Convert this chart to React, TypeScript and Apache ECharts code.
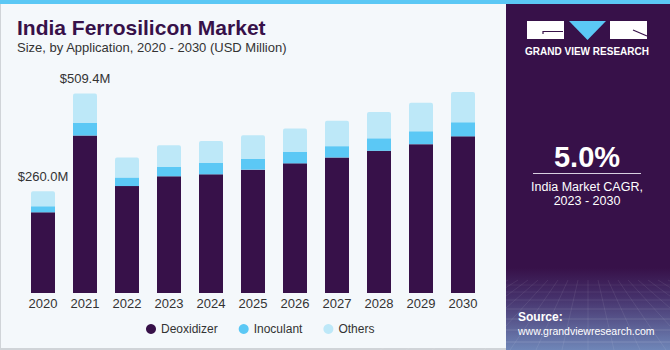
import React, { useEffect, useRef } from "react";
import * as echarts from "echarts";

const years = ["2020", "2021", "2022", "2023", "2024", "2025", "2026", "2027", "2028", "2029", "2030"];
const deoxidizer = [206, 402, 273, 298, 303, 315, 331, 346, 363, 380, 400];
const inoculant = [15.5, 32, 22, 24, 29, 28, 29, 29, 32, 33, 36];
const others = [38.5, 75.4, 51, 55, 56, 60, 60, 65, 67, 73, 77];
const labeledIndices = [0, 1];

const FONT = "Liberation Sans, Arial, sans-serif";
const PURPLE = "#371149";
const BLUE = "#5bc8f5";
const LIGHT = "#bde8f8";

export default function App() {
  const ref = useRef<HTMLDivElement>(null);
  useEffect(() => {
    if (!ref.current) return;
    const chart = echarts.init(ref.current, null, { renderer: "svg" });
    const totals = years.map((_, i) => deoxidizer[i] + inoculant[i] + others[i]);

    const mesh: any[] = [];
    const hy = [285, 292, 300, 309, 319, 330, 342];
    hy.forEach((y, k) => {
      mesh.push({
        type: "line",
        shape: { x1: 506, y1: y, x2: 670, y2: y },
        style: { stroke: "#ffffff", opacity: 0.06 + k * 0.015, lineWidth: 1 },
        silent: true,
      });
    });
    for (let i = -8; i <= 8; i++) {
      mesh.push({
        type: "line",
        shape: { x1: 588 + i * 10, y1: 280, x2: 588 + i * 26, y2: 350 },
        style: { stroke: "#ffffff", opacity: 0.08, lineWidth: 1 },
        silent: true,
      });
    }

    chart.setOption({
      animation: false,
      backgroundColor: "#f4f8fb",
      textStyle: { fontFamily: FONT },
      grid: { left: 22, right: 186, top: 58, bottom: 57 },
      legend: {
        left: 141,
        top: 318,
        icon: "circle",
        itemWidth: 10,
        itemHeight: 10,
        itemGap: 21,
        textStyle: { fontSize: 12, color: "#333", fontFamily: FONT },
        data: ["Deoxidizer", "Inoculant", "Others"],
      },
      xAxis: {
        type: "category",
        data: years,
        axisLine: { show: false },
        axisTick: { show: false },
        axisLabel: { margin: 4, fontSize: 13, color: "#333", fontFamily: FONT },
      },
      yAxis: {
        type: "value",
        min: 0,
        max: 600,
        show: false,
        splitLine: { show: false },
      },
      series: [
        {
          name: "Deoxidizer",
          type: "bar",
          stack: "t",
          barWidth: 24,
          data: deoxidizer,
          itemStyle: { color: PURPLE },
        },
        {
          name: "Inoculant",
          type: "bar",
          stack: "t",
          barWidth: 24,
          data: inoculant,
          itemStyle: { color: BLUE },
        },
        {
          name: "Others",
          type: "bar",
          stack: "t",
          barWidth: 24,
          data: others,
          itemStyle: { color: LIGHT, borderRadius: [2, 2, 0, 0] },
          label: {
            show: true,
            position: "top",
            distance: 8,
            fontSize: 13,
            color: "#333",
            fontFamily: FONT,
            formatter: (p: any) =>
              labeledIndices.includes(p.dataIndex) ? "$" + totals[p.dataIndex].toFixed(1) + "M" : "",
          },
        },
      ],
      graphic: [
        { type: "rect", shape: { x: 0, y: 0, width: 670, height: 4 }, style: { fill: BLUE }, silent: true },
        { type: "rect", shape: { x: 0, y: 4, width: 1, height: 346 }, style: { fill: "#d0d4d8" }, silent: true },
        { type: "rect", shape: { x: 0, y: 348, width: 506, height: 2 }, style: { fill: "#d0d4d8" }, silent: true },
        {
          type: "text",
          left: 17,
          top: 17,
          style: { text: "India Ferrosilicon Market", font: `bold 21px ${FONT}`, fill: PURPLE },
        },
        {
          type: "text",
          left: 17,
          top: 41,
          style: { text: "Size, by Application, 2020 - 2030 (USD Million)", font: `13px ${FONT}`, fill: "#333" },
        },
        { type: "rect", shape: { x: 506, y: 4, width: 164, height: 346 }, style: { fill: PURPLE }, silent: true },
        {
          type: "rect",
          shape: { x: 506, y: 268, width: 164, height: 82 },
          style: {
            fill: new echarts.graphic.LinearGradient(0, 0, 0, 1, [
              { offset: 0, color: PURPLE },
              { offset: 0.35, color: "#45306a" },
              { offset: 1, color: "#6f86b8" },
            ]),
          },
          silent: true,
        },
        ...mesh,
        { type: "rect", shape: { x: 527, y: 21, width: 37, height: 18 }, style: { fill: "#ffffff" }, silent: true },
        {
          type: "polyline",
          shape: { points: [[563, 31.5], [543, 31.5], [543, 34]] },
          style: { stroke: PURPLE, lineWidth: 1.2, fill: "none" },
          silent: true,
        },
        {
          type: "polygon",
          shape: { points: [[569, 21], [606, 21], [587.5, 40]] },
          style: { fill: BLUE },
          silent: true,
        },
        { type: "rect", shape: { x: 610, y: 21, width: 37, height: 18 }, style: { fill: "#ffffff" }, silent: true },
        {
          type: "line",
          shape: { x1: 633, y1: 30, x2: 647, y2: 36 },
          style: { stroke: PURPLE, lineWidth: 1.2 },
          silent: true,
        },
        {
          type: "text",
          x: 587,
          y: 51,
          style: {
            text: "GRAND VIEW RESEARCH",
            font: `bold 10px ${FONT}`,
            fill: "#ffffff",
            align: "center",
            verticalAlign: "middle",
          },
        },
        {
          type: "text",
          x: 587,
          y: 157,
          style: {
            text: "5.0%",
            font: `bold 29px ${FONT}`,
            fill: "#ffffff",
            align: "center",
            verticalAlign: "middle",
          },
        },
        {
          type: "line",
          shape: { x1: 533, y1: 173.5, x2: 641, y2: 173.5 },
          style: { stroke: "#d8d0e0", lineWidth: 1 },
          silent: true,
        },
        {
          type: "text",
          x: 587,
          y: 187,
          style: {
            text: "India Market CAGR,",
            font: `12.5px ${FONT}`,
            fill: "#ffffff",
            align: "center",
            verticalAlign: "middle",
          },
        },
        {
          type: "text",
          x: 587,
          y: 201,
          style: {
            text: "2023 - 2030",
            font: `12.5px ${FONT}`,
            fill: "#ffffff",
            align: "center",
            verticalAlign: "middle",
          },
        },
        {
          type: "text",
          x: 518,
          y: 317,
          style: { text: "Source:", font: `bold 12px ${FONT}`, fill: "#ffffff", verticalAlign: "middle" },
        },
        {
          type: "text",
          x: 518,
          y: 331,
          style: { text: "www.grandviewresearch.com", font: `10.5px ${FONT}`, fill: "#ffffff", verticalAlign: "middle" },
        },
      ],
    });
    return () => chart.dispose();
  }, []);
  return <div ref={ref} style={{ position: "fixed", left: 0, top: 0, width: 670, height: 350 }} />;
}
